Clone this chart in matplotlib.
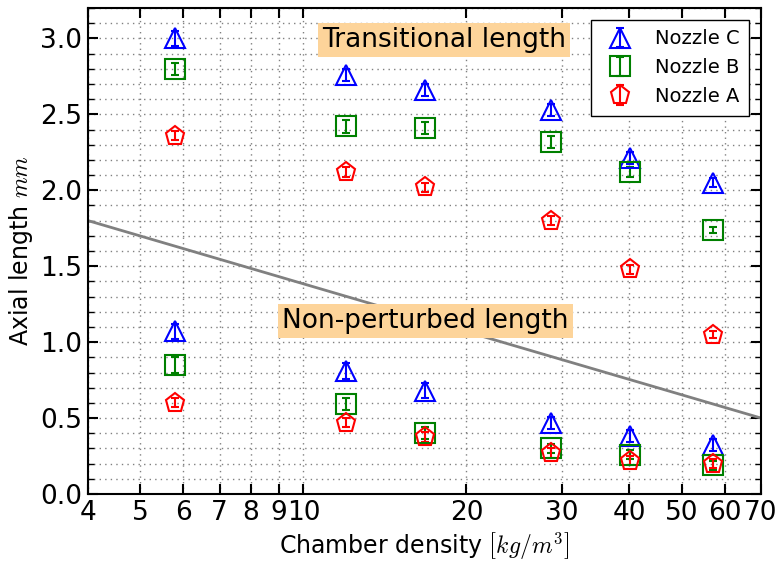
import numpy as np
import matplotlib
matplotlib.use("Agg")
from matplotlib import pyplot as plt
from matplotlib.ticker import MultipleLocator, FixedLocator, NullLocator

plt.rcParams['mathtext.fontset'] = 'cm'

# chamber density [kg/m^3]
rho = np.array([5.79, 12.0, 16.8, 28.7, 40.1, 57.1])

# transitional length (upper group) and non-perturbed length (lower group), mm
trans_C = np.array([3.00, 2.76, 2.66, 2.53, 2.21, 2.05])
trans_B = np.array([2.80, 2.42, 2.41, 2.32, 2.12, 1.74])
trans_A = np.array([2.36, 2.12, 2.02, 1.80, 1.48, 1.05])
nonp_C = np.array([1.07, 0.81, 0.68, 0.47, 0.38, 0.32])
nonp_B = np.array([0.85, 0.59, 0.40, 0.30, 0.26, 0.19])
nonp_A = np.array([0.60, 0.47, 0.375, 0.27, 0.22, 0.20])

err_trans_C = np.array([0.05, 0.04, 0.04, 0.04, 0.04, 0.03])
err_trans_B = np.array([0.04, 0.04, 0.04, 0.04, 0.03, 0.02])
err_trans_A = np.array([0.03, 0.03, 0.03, 0.03, 0.03, 0.02])
err_nonp_C = np.array([0.05, 0.05, 0.05, 0.04, 0.04, 0.04])
err_nonp_B = np.array([0.05, 0.04, 0.04, 0.03, 0.03, 0.03])
err_nonp_A = np.array([0.03, 0.03, 0.03, 0.03, 0.03, 0.03])

# separating line
line_x = [4, 70]
line_y = [1.8, 0.5]

xticks = [4, 5, 6, 7, 8, 9, 10, 20, 30, 40, 50, 60, 70]

fig = plt.figure(figsize=(7.79, 5.68), dpi=100)
ax = fig.add_axes([88/779., 74/568., 673/779., 486/568.])

ax.plot(line_x, line_y, color='gray', lw=2)

nozzles = [
    ('Nozzle C', '^', 'b', trans_C, nonp_C, err_trans_C, err_nonp_C),
    ('Nozzle B', 's', 'g', trans_B, nonp_B, err_trans_B, err_nonp_B),
    ('Nozzle A', 'p', 'r', trans_A, nonp_A, err_trans_A, err_nonp_A),
]
for name, mk, c, yt, yn, et, en in nozzles:
    style = dict(fmt=mk, ms=14, mfc='none', mec=c, mew=1.5, ecolor=c,
                 elinewidth=1.5, capsize=3, capthick=1.5)
    ax.errorbar(rho, yt, yerr=et, label=name, **style)
    ax.errorbar(rho, yn, yerr=en, **style)

ax.set_xscale('log')
ax.set_xlim(4, 70)
ax.set_ylim(0, 3.2)
ax.xaxis.set_major_locator(FixedLocator(xticks))
ax.xaxis.set_minor_locator(NullLocator())
ax.set_xticklabels([str(t) for t in xticks])
ax.yaxis.set_major_locator(MultipleLocator(0.5))
ax.yaxis.set_minor_locator(MultipleLocator(0.1))
ax.yaxis.set_major_formatter(plt.FormatStrFormatter('%.1f'))

ax.tick_params(which='both', direction='in', top=True, right=True, labelsize=19)
ax.tick_params(which='major', length=7, width=1.5)
ax.tick_params(which='minor', length=4, width=1)
ax.tick_params(axis='x', pad=4)
ax.tick_params(axis='y', pad=4)
for s in ax.spines.values():
    s.set_linewidth(1.5)

ax.grid(True, which='both', linestyle=(0, (1, 3)), color='0.5', lw=1)

box = dict(facecolor='#fdd49a', edgecolor='none', pad=3)
ax.text(18.2, 2.99, 'Transitional length', fontsize=19, ha='center', va='center', bbox=box)
ax.text(16.8, 1.14, 'Non-perturbed length', fontsize=19, ha='center', va='center', bbox=box)

ax.set_xlabel(r'Chamber density $\left[kg/m^3\right]$', fontsize=17)
ax.set_ylabel(r'Axial length $mm$', fontsize=17)

ax.legend(loc='upper right', numpoints=1, fontsize=14, fancybox=False,
          edgecolor='k', framealpha=1, borderaxespad=0.6, borderpad=0.5)

plt.savefig('out.png', dpi=100)
